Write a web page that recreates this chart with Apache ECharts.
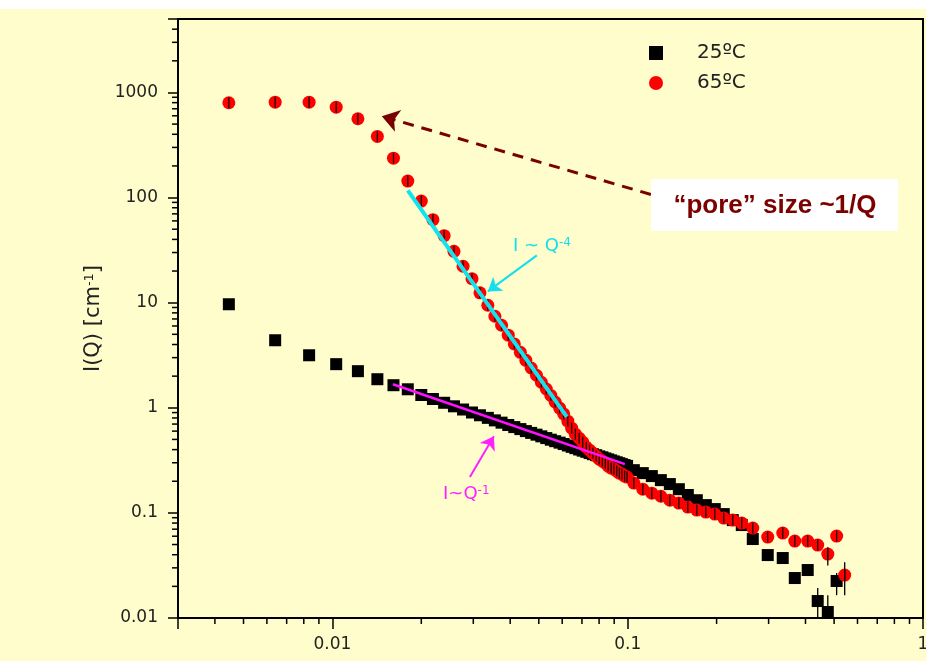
<!DOCTYPE html>
<html>
<head>
<meta charset="utf-8">
<script src="https://cdn.jsdelivr.net/npm/echarts@6/dist/echarts.min.js"></script>
<style>
  html, body { margin: 0; padding: 0; background: #ffffff; }
  #chart { width: 926px; height: 661px; }
</style>
</head>
<body>
<div id="chart"></div>
<script>
// Scattering vector Q (Å^-1), shared by both temperatures
const qValues = [
  0.00446, 0.0064, 0.00834, 0.0103, 0.0122, 0.0142, 0.0161, 0.0180, 0.0200, 0.0219,
  0.0239, 0.0258, 0.0277, 0.0297, 0.0316, 0.0336, 0.0355, 0.0374, 0.0394, 0.0413,
  0.0433, 0.0452, 0.0471, 0.0491, 0.0510, 0.0530, 0.0549, 0.0568, 0.0588, 0.0607,
  0.0627, 0.0646, 0.0665, 0.0685, 0.0704, 0.0724, 0.0743, 0.0762, 0.0782, 0.0801,
  0.0821, 0.0840, 0.0859, 0.0879, 0.0898, 0.0918, 0.0937, 0.0956, 0.0976, 0.0995,
  0.1049, 0.1125, 0.1207, 0.1295, 0.1389, 0.1490, 0.1598, 0.1714, 0.1839, 0.1972,
  0.2115, 0.2269, 0.2434,
  0.2652, 0.298, 0.335, 0.368, 0.407, 0.440, 0.476, 0.510, 0.543
];

// I(Q) in cm^-1 at 25 ºC
const i25 = [
  9.66, 4.39, 3.16, 2.60, 2.23, 1.87, 1.64, 1.50, 1.323, 1.212,
  1.116, 1.033, 0.963, 0.902, 0.849, 0.802, 0.759, 0.722, 0.686, 0.655,
  0.627, 0.600, 0.577, 0.555, 0.535, 0.515, 0.497, 0.481, 0.466, 0.452,
  0.438, 0.425, 0.413, 0.401, 0.391, 0.381, 0.371, 0.362, 0.354, 0.345,
  0.338, 0.330, 0.323, 0.316, 0.309, 0.303, 0.297, 0.291, 0.285, 0.280,
  0.255, 0.239, 0.224, 0.205, 0.188, 0.168, 0.148, 0.132, 0.1186, 0.1087,
  0.0974, 0.0854, 0.0766,
  0.0564, 0.0397, 0.0372, 0.0240, 0.0286, 0.0145, 0.0114, 0.0225
];

// I(Q) in cm^-1 at 65 ºC
const i65 = [
  798, 809, 809, 725, 562, 382, 237, 143.5, 92.6, 61.6,
  43.4, 30.8, 22.2, 16.9, 12.4, 9.45, 7.43, 6.1, 4.91, 4.05,
  3.37, 2.83, 2.39, 2.04, 1.75, 1.51, 1.31, 1.135, 0.993, 0.875,
  0.746, 0.640, 0.561, 0.514, 0.471, 0.422, 0.395, 0.370, 0.347, 0.325,
  0.311, 0.297, 0.279, 0.267, 0.261, 0.250, 0.239, 0.234, 0.224, 0.219,
  0.192, 0.168, 0.154, 0.144, 0.132, 0.124, 0.1135, 0.1063, 0.1018, 0.0974,
  0.0892, 0.0854, 0.0800,
  0.0717, 0.0589, 0.0643, 0.0539, 0.0539, 0.0494, 0.0406, 0.0602, 0.0256
];

// Error bars that reach past the markers: [Q, low, high]
const err25 = [[0.440, 0.0102, 0.0193], [0.476, 0.0098, 0.0165], [0.510, 0.0165, 0.0268]];
const err65 = [[0.543, 0.0165, 0.0340], [0.476, 0.0315, 0.0470]];

// Power-law guides: [Q, I] end points
const fitQ4 = [[0.0180, 117], [0.0622, 0.82]];
const fitQ1 = [[0.01603, 1.676], [0.0978, 0.291]];

// Annotation arrows: [[Q, I] tail, [Q, I] head]
const arrowPore = [[0.1198, 107], [0.01470, 595]];
const arrowQ4 = [[0.04924, 28.2], [0.03361, 12.8]];
const arrowQ1 = [[0.02921, 0.219], [0.03522, 0.537]];

const xTickLabels = ['0.01', '0.1', '1'];
const yTickLabels = ['0.01', '0.1', '1', '10', '100', '1000'];
const xMinorTicks = [0.004, 0.005, 0.006, 0.007, 0.008, 0.009,
  0.02, 0.03, 0.04, 0.05, 0.06, 0.07, 0.08, 0.09,
  0.2, 0.3, 0.4, 0.5, 0.6, 0.7, 0.8, 0.9];
const yMinorTicks = [0.02, 0.03, 0.04, 0.05, 0.06, 0.07, 0.08, 0.09,
  0.2, 0.3, 0.4, 0.5, 0.6, 0.7, 0.8, 0.9,
  2, 3, 4, 5, 6, 7, 8, 9,
  20, 30, 40, 50, 60, 70, 80, 90,
  200, 300, 400, 500, 600, 700, 800, 900,
  2000, 3000, 4000];

const X_MIN = 0.003, X_MAX = 1, Y_MIN = 0.01, Y_MAX = 5000;
const FONT = 'DejaVu Sans';
const BG = '#fefdcb';

const pts25 = i25.map((v, k) => [qValues[k], v]);
const pts65 = i65.map((v, k) => [qValues[k], v]);

function tickText(list) {
  return function (v) {
    const s = String(+Number(v).toPrecision(6));
    return list.indexOf(s) >= 0 ? s : '';
  };
}

function minorTickSeries(values, isX) {
  return {
    type: 'custom',
    silent: true,
    z: 10,
    data: values.map(v => isX ? [v, Y_MIN] : [X_MIN, v]),
    renderItem: function (params, api) {
      const p = api.coord([api.value(0), api.value(1)]);
      const shape = isX
        ? { x1: p[0], y1: p[1], x2: p[0], y2: p[1] + 6 }
        : { x1: p[0], y1: p[1], x2: p[0] - 6, y2: p[1] };
      return { type: 'line', shape: shape, style: { stroke: '#000', lineWidth: 1.5 } };
    }
  };
}

function errorBarSeries(rows, z) {
  return {
    type: 'custom',
    silent: true,
    z: z,
    data: rows,
    encode: { x: 0, y: [1, 2] },
    renderItem: function (params, api) {
      const a = api.coord([api.value(0), api.value(1)]);
      const b = api.coord([api.value(0), api.value(2)]);
      return { type: 'line', shape: { x1: a[0], y1: a[1], x2: b[0], y2: b[1] },
               style: { stroke: '#000', lineWidth: 1.3 } };
    }
  };
}

const chart = echarts.init(document.getElementById('chart'), null, { renderer: 'canvas' });

chart.setOption({
  animation: false,
  backgroundColor: BG,
  textStyle: { fontFamily: FONT },
  grid: {
    left: 178, right: 3, top: 19, bottom: 43,
    outerBoundsMode: 'none', containLabel: false,
    show: true, borderColor: '#000', borderWidth: 2, backgroundColor: 'transparent'
  },
  legend: {
    orient: 'vertical',
    left: 644, top: 38,
    itemWidth: 14, itemHeight: 14, itemGap: 10,
    selectedMode: false,
    textStyle: { fontSize: 20, color: '#222', fontFamily: FONT, padding: [0, 0, 0, 29], lineHeight: 20 },
    data: [{ name: '25ºC', icon: 'rect' }, { name: '65ºC', icon: 'circle' }]
  },
  xAxis: {
    type: 'log', logBase: 10, min: X_MIN, max: X_MAX,
    axisLine: { show: true, lineStyle: { color: '#000', width: 2 } },
    axisTick: { show: true, inside: false, length: 11, lineStyle: { color: '#000', width: 1.5 } },
    axisLabel: { show: true, margin: 18, fontSize: 17, color: '#222', fontFamily: FONT,
                 formatter: tickText(xTickLabels), showMinLabel: true, showMaxLabel: true },
    splitLine: { show: false },
    minorTick: { show: false }
  },
  yAxis: {
    type: 'log', logBase: 10, min: Y_MIN, max: Y_MAX,
    name: 'I(Q) [cm{s|-1}]',
    nameLocation: 'middle', nameRotate: 90, nameGap: 73,
    nameTextStyle: { fontSize: 21, color: '#222', fontFamily: FONT,
                     rich: { s: { fontSize: 13, verticalAlign: 'top', fontFamily: FONT, color: '#222' } } },
    axisLine: { show: true, lineStyle: { color: '#000', width: 2 } },
    axisTick: { show: true, inside: false, length: 10, lineStyle: { color: '#000', width: 1.5 } },
    axisLabel: { show: true, margin: 20, fontSize: 17, color: '#222', fontFamily: FONT,
                 formatter: tickText(yTickLabels), showMinLabel: true, showMaxLabel: true },
    splitLine: { show: false },
    minorTick: { show: false }
  },
  graphic: [
    { type: 'rect', left: 0, top: 0, shape: { width: 926, height: 9 }, style: { fill: '#ffffff' }, z: 100 },
    { type: 'rect', left: 651, top: 179, shape: { width: 247, height: 52 }, style: { fill: '#ffffff' }, z: 100 },
    { type: 'text', x: 775, y: 206, z: 101,
      style: { text: '\u201Cpore\u201D size ~1/Q', fill: '#7d0000', fontSize: 26, fontWeight: 'bold',
               fontFamily: 'Liberation Sans', align: 'center', verticalAlign: 'middle' } },
    { type: 'text', left: 513, top: 237, z: 101,
      style: { text: 'I ~ Q{s|-4}', fill: '#12e0ee', fontSize: 18, fontFamily: FONT,
               rich: { s: { fontSize: 12, verticalAlign: 'top', fill: '#12e0ee', fontFamily: FONT } } } },
    { type: 'text', left: 443, top: 485, z: 101,
      style: { text: 'I~Q{s|-1}', fill: '#ff22ff', fontSize: 18, fontFamily: FONT,
               rich: { s: { fontSize: 12, verticalAlign: 'top', fill: '#ff22ff', fontFamily: FONT } } } }
  ],
  series: [
    {
      name: '25ºC', type: 'scatter', z: 2,
      symbol: 'rect', symbolSize: 12,
      itemStyle: { color: '#000000', opacity: 1 },
      data: pts25
    },
    {
      name: '65ºC', type: 'scatter', z: 3,
      symbol: 'circle', symbolSize: 13,
      itemStyle: { color: '#ff0000', opacity: 1 },
      data: pts65
    },
    {
      // short error-bar stroke drawn through each 65 ºC marker
      name: 'bars65', type: 'scatter', z: 4, silent: true,
      symbol: 'rect', symbolSize: [1.3, 11],
      itemStyle: { color: '#1a0000', opacity: 1 },
      data: pts65
    },
    errorBarSeries(err25, 4),
    errorBarSeries(err65, 4),
    {
      name: 'fitQ4', type: 'line', z: 5, silent: true,
      showSymbol: false, symbol: 'none',
      lineStyle: { color: '#10e4ee', width: 4, opacity: 1 },
      data: fitQ4
    },
    {
      name: 'fitQ1', type: 'line', z: 5, silent: true,
      showSymbol: false, symbol: 'none',
      lineStyle: { color: '#ff10ff', width: 2.5, opacity: 1 },
      data: fitQ1
    },
    {
      name: 'arrows', type: 'lines', coordinateSystem: 'cartesian2d', z: 6, silent: true,
      symbol: ['none', 'arrow'],
      lineStyle: { opacity: 1 },
      data: [
        { coords: arrowPore, symbolSize: 17, lineStyle: { color: '#7a0000', width: 3, type: [11, 8], opacity: 1 } },
        { coords: arrowQ4, symbolSize: 13, lineStyle: { color: '#12e0ee', width: 2, opacity: 1 } },
        { coords: arrowQ1, symbolSize: 13, lineStyle: { color: '#ff22ff', width: 2, opacity: 1 } }
      ]
    },
    minorTickSeries(xMinorTicks, true),
    minorTickSeries(yMinorTicks, false)
  ]
});
</script>
</body>
</html>
